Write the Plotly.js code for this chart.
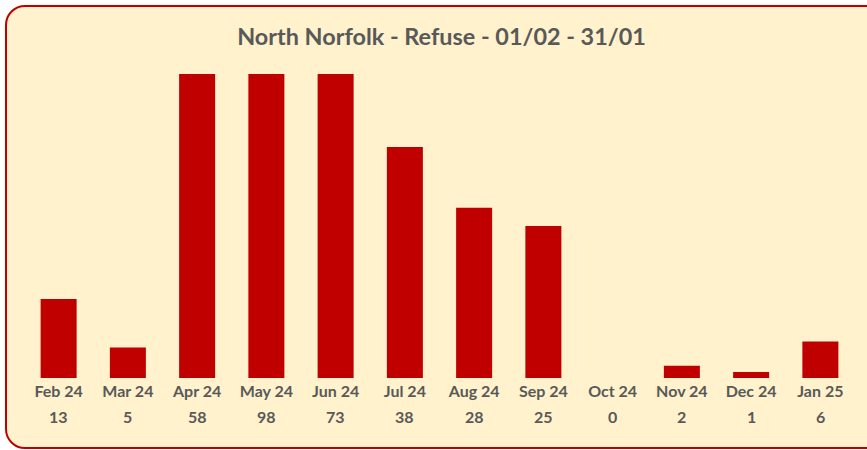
<!DOCTYPE html>
<html>
<head>
<meta charset="utf-8">
<script src="https://cdn.plot.ly/plotly-3.0.1.min.js"></script>
<style>
html,body{margin:0;padding:0;background:#ffffff;overflow:hidden;width:867px;height:450px;}
#frame{position:absolute;left:5px;top:5px;width:880px;height:440px;border:2px solid #C00000;border-radius:20px;background:#FFF2CC;}
#chart{position:absolute;left:0;top:0;width:867px;height:450px;}
</style>
</head>
<body>
<div id="frame"></div>
<div id="chart"></div>
<script>
const months = ['Feb 24','Mar 24','Apr 24','May 24','Jun 24','Jul 24','Aug 24','Sep 24','Oct 24','Nov 24','Dec 24','Jan 25'];
const counts = [13, 5, 58, 98, 73, 38, 28, 25, 0, 2, 1, 6];
const chartTitle = 'North Norfolk - Refuse - 01/02 - 31/01';

const labelFont = {family: 'Lato, "Open Sans", sans-serif', size: 16, color: '#595959', weight: 'bold'};

const trace = {
  type: 'bar',
  x: months,
  y: counts,
  marker: {color: '#C00000', line: {width: 0}},
  hoverinfo: 'x+y'
};

const valueAnnotations = months.map((m, i) => ({
  x: m, xref: 'x',
  y: 0, yref: 'paper',
  yanchor: 'middle',
  yshift: -38,
  text: '<b>' + String(counts[i]) + '</b>',
  showarrow: false,
  font: labelFont
}));

const layout = {
  width: 867,
  height: 450,
  margin: {l: 24, r: 12, t: 74, b: 72, pad: 0},
  paper_bgcolor: 'rgba(0,0,0,0)',
  plot_bgcolor: 'rgba(0,0,0,0)',
  bargap: 0.48,
  showlegend: false,
  title: {
    text: '<b>' + chartTitle + '</b>',
    x: 0.5024, xanchor: 'center', xref: 'paper',
    y: 0.918, yanchor: 'middle', yref: 'container',
    font: {family: 'Lato, "Open Sans", sans-serif', size: 23.4, color: '#595959'}
  },
  xaxis: {
    type: 'category',
    showline: false,
    showgrid: false,
    zeroline: false,
    ticks: '',
    tickfont: labelFont,
    ticklabelstandoff: 2,
    fixedrange: true
  },
  yaxis: {
    range: [0, 50],
    visible: false,
    showgrid: false,
    zeroline: false,
    fixedrange: true
  },
  annotations: valueAnnotations
};

Plotly.newPlot('chart', [trace], layout, {displayModeBar: false, staticPlot: true});
</script>
</body>
</html>
